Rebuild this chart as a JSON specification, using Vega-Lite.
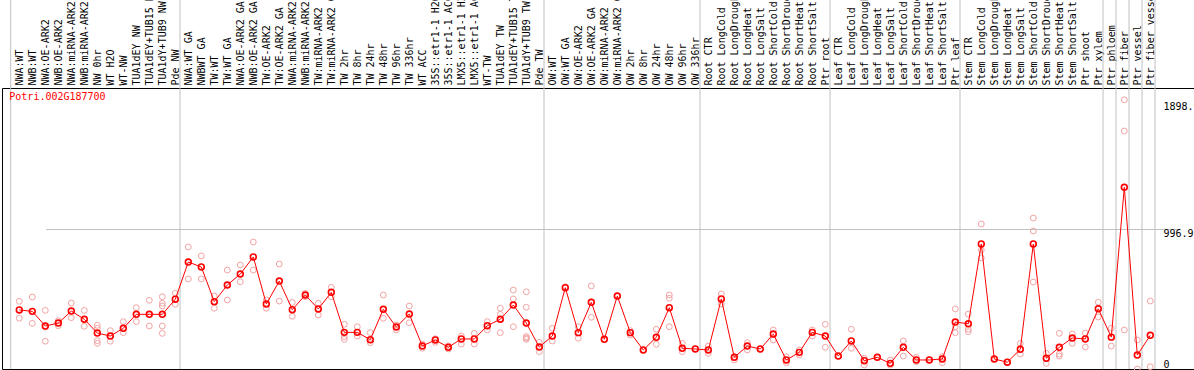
{
  "$schema": "https://vega.github.io/schema/vega-lite/v6.json",
  "width": 1192,
  "height": 281,
  "autosize": {"type": "none"},
  "padding": {"left": 2, "top": 88, "right": 0, "bottom": 1},
  "background": "white",
  "config": {"view": {"stroke": "black", "strokeWidth": 1}, "font": "DejaVu Sans Mono"},
  "datasets": {
    "sep": [
      {"c": "Pde NW"}, {"c": "Pde TW"}, {"c": "OW 336hr"}, {"c": "Ptr root"}, {"c": "Ptr leaf"},
      {"c": "Ptr xylem"}, {"c": "Ptr phloem"}, {"c": "Ptr fiber"}, {"c": "Ptr vessel"}, {"c": "Ptr fiber vessel"}
    ],
    "d": [
      {"c": "NWA:WT", "m": 419, "r": [480, 360]},
      {"c": "NWB:WT", "m": 409, "r": [511, 324]},
      {"c": "NWA:OE-ARK2", "m": 305, "r": [416, 197, 298]},
      {"c": "NWB:OE-ARK2", "m": 326, "r": [343, 307]},
      {"c": "NWA:miRNA-ARK2", "m": 411, "r": [468, 364]},
      {"c": "NWB:miRNA-ARK2", "m": 353, "r": [416, 303]},
      {"c": "NW 0hr", "m": 255, "r": [310, 289, 201, 182]},
      {"c": "WT H2O", "m": 234, "r": [272, 197]},
      {"c": "WT-NW", "m": 289, "r": [336, 258, 289]},
      {"c": "TUA1dEY NW", "m": 388, "r": [435, 336]},
      {"c": "TUA1dEY+TUB15 NW", "m": 388, "r": [487, 305]},
      {"c": "TUA1dY+TUB9 NW", "m": 388, "r": [513, 466, 447, 305, 253]},
      {"c": "Pde NW", "m": 495, "r": [537, 459]},
      {"c": "NWA:WT GA", "m": 759, "r": [866, 639]},
      {"c": "NWBWT GA", "m": 724, "r": [802, 639]},
      {"c": "TW:WT", "m": 478, "r": [518, 431]},
      {"c": "TW:WT GA", "m": 596, "r": [702, 490]},
      {"c": "NWA:OE-ARK2 GA", "m": 674, "r": [738, 619]},
      {"c": "NWB:OE-ARK2 GA", "m": 795, "r": [901, 702]},
      {"c": "TW:OE-ARK2", "m": 461, "r": [490, 431]},
      {"c": "TW:OE-ARK2 GA", "m": 624, "r": [745, 482]},
      {"c": "NWA:miRNA-ARK2 GA", "m": 421, "r": [472, 374]},
      {"c": "NWB:miRNA-ARK2 GA", "m": 525, "r": [537, 513]},
      {"c": "TW:miRNA-ARK2", "m": 426, "r": [466, 383]},
      {"c": "TW:miRNA-ARK2 GA", "m": 544, "r": [580, 513]},
      {"c": "TW 2hr", "m": 260, "r": [317, 229, 211]},
      {"c": "TW 8hr", "m": 260, "r": [300, 234]},
      {"c": "TW 24hr", "m": 208, "r": [258, 187]},
      {"c": "TW 48hr", "m": 424, "r": [525, 360]},
      {"c": "TW 96hr", "m": 298, "r": [312, 277]},
      {"c": "TW 336hr", "m": 390, "r": [447, 328]},
      {"c": "WT ACC", "m": 163, "r": [177, 147]},
      {"c": "35S::etr1-1 H2O", "m": 206, "r": [215, 189]},
      {"c": "35S::etr1-1 ACC", "m": 154, "r": [163, 142]},
      {"c": "LMX5::etr1-1 H2O", "m": 213, "r": [234, 177]},
      {"c": "LMX5::etr1-1 ACC", "m": 213, "r": [253, 177]},
      {"c": "WT-TW", "m": 307, "r": [336, 277]},
      {"c": "TUA1dEY TW", "m": 353, "r": [431, 388, 258]},
      {"c": "TUA1dEY+TUB15 TW", "m": 454, "r": [560, 497, 300]},
      {"c": "TUA1dY+TUB9 TW", "m": 326, "r": [548, 438, 220, 211, 230]},
      {"c": "Pde TW", "m": 156, "r": [189, 123]},
      {"c": "OW:WT", "m": 234, "r": [289, 199]},
      {"c": "OW:WT GA", "m": 577, "r": [584]},
      {"c": "OW:OE-ARK2", "m": 258, "r": [300, 218]},
      {"c": "OW:OE-ARK2 GA", "m": 473, "r": [589, 367]},
      {"c": "OW:miRNA-ARK2", "m": 211, "r": [211]},
      {"c": "OW:miRNA-ARK2 GA", "m": 518, "r": [518]},
      {"c": "OW 2hr", "m": 258, "r": [272, 241]},
      {"c": "OW 8hr", "m": 135, "r": [135]},
      {"c": "OW 24hr", "m": 225, "r": [282, 175]},
      {"c": "OW 48hr", "m": 435, "r": [525, 502, 300]},
      {"c": "OW 96hr", "m": 147, "r": [182, 123]},
      {"c": "OW 336hr", "m": 142, "r": [142]},
      {"c": "Root CTR", "m": 135, "r": [163, 111]},
      {"c": "Root LongCold", "m": 497, "r": [532, 461]},
      {"c": "Root LongDrought", "m": 83, "r": [87, 64]},
      {"c": "Root LongHeat", "m": 163, "r": [187, 135]},
      {"c": "Root LongSalt", "m": 142, "r": [142]},
      {"c": "Root ShortCold", "m": 248, "r": [277, 206]},
      {"c": "Root ShortDrought", "m": 64, "r": [87, 45]},
      {"c": "Root ShortHeat", "m": 118, "r": [135, 99]},
      {"c": "Root ShortSalt", "m": 260, "r": [277, 234]},
      {"c": "Ptr root", "m": 234, "r": [317, 154]},
      {"c": "Leaf CTR", "m": 92, "r": [92]},
      {"c": "Leaf LongCold", "m": 199, "r": [282, 147]},
      {"c": "Leaf LongDrought", "m": 59, "r": [76, 28]},
      {"c": "Leaf LongHeat", "m": 83, "r": [83]},
      {"c": "Leaf LongSalt", "m": 40, "r": [64, 28]},
      {"c": "Leaf ShortCold", "m": 154, "r": [199, 92]},
      {"c": "Leaf ShortDrought", "m": 64, "r": [83, 52]},
      {"c": "Leaf ShortHeat", "m": 64, "r": [64]},
      {"c": "Leaf ShortSalt", "m": 71, "r": [87, 45]},
      {"c": "Ptr leaf", "m": 333, "r": [426, 300, 258]},
      {"c": "Stem CTR", "m": 321, "r": [390, 282, 265]},
      {"c": "Stem LongCold", "m": 887, "r": [1029, 844, 788]},
      {"c": "Stem LongDrought", "m": 71, "r": [71]},
      {"c": "Stem LongHeat", "m": 48, "r": [48]},
      {"c": "Stem LongSalt", "m": 140, "r": [182, 106]},
      {"c": "Stem ShortCold", "m": 887, "r": [1071, 979, 617]},
      {"c": "Stem ShortDrought", "m": 76, "r": [111, 40]},
      {"c": "Stem ShortHeat", "m": 154, "r": [253, 106, 92]},
      {"c": "Stem ShortSalt", "m": 220, "r": [248, 182]},
      {"c": "Ptr shoot", "m": 213, "r": [255, 156]},
      {"c": "Ptr xylem", "m": 427, "r": [474, 369]},
      {"c": "Ptr phloem", "m": 226, "r": [289, 163]},
      {"c": "Ptr fiber", "m": 1289, "r": [1910, 1689, 277]},
      {"c": "Ptr vessel", "m": 99, "r": [206, 0]},
      {"c": "Ptr fiber vessel", "m": 239, "r": [482, 16]}
    ]
  },
  "layer": [
    {
      "data": {"name": "sep"},
      "mark": {"type": "rule", "color": "#c0c0c0", "strokeWidth": 1, "xOffset": 4.7},
      "encoding": {
        "x": {"field": "c", "type": "nominal"},
        "y": {"datum": 0},
        "y2": {"datum": 2625}
      }
    },
    {
      "data": {"values": [{"c": "NWA:WT"}]},
      "mark": {"type": "rule", "color": "#c0c0c0", "strokeWidth": 1, "xOffset": -8.6},
      "encoding": {
        "x": {"field": "c", "type": "nominal"},
        "y": {"datum": 0},
        "y2": {"datum": 2625}
      }
    },
    {
      "data": {"name": "d"},
      "transform": [{"flatten": ["r"], "as": ["m"]}],
      "mark": {"type": "point", "shape": "circle", "filled": false, "size": 34, "strokeWidth": 1, "color": "#f2a2a2", "opacity": 1},
      "encoding": {
        "x": {"field": "c", "type": "nominal"},
        "y": {"field": "m", "type": "quantitative"}
      }
    },
    {
      "data": {"name": "d"},
      "mark": {"type": "line", "color": "#ff0000", "strokeWidth": 1},
      "encoding": {
        "x": {
          "field": "c",
          "type": "nominal",
          "scale": {
            "type": "point",
            "padding": 0,
            "range": [17.3, 1148.3],
            "domain": ["NWA:WT", "NWB:WT", "NWA:OE-ARK2", "NWB:OE-ARK2", "NWA:miRNA-ARK2", "NWB:miRNA-ARK2", "NW 0hr", "WT H2O", "WT-NW", "TUA1dEY NW", "TUA1dEY+TUB15 NW", "TUA1dY+TUB9 NW", "Pde NW", "NWA:WT GA", "NWBWT GA", "TW:WT", "TW:WT GA", "NWA:OE-ARK2 GA", "NWB:OE-ARK2 GA", "TW:OE-ARK2", "TW:OE-ARK2 GA", "NWA:miRNA-ARK2 GA", "NWB:miRNA-ARK2 GA", "TW:miRNA-ARK2", "TW:miRNA-ARK2 GA", "TW 2hr", "TW 8hr", "TW 24hr", "TW 48hr", "TW 96hr", "TW 336hr", "WT ACC", "35S::etr1-1 H2O", "35S::etr1-1 ACC", "LMX5::etr1-1 H2O", "LMX5::etr1-1 ACC", "WT-TW", "TUA1dEY TW", "TUA1dEY+TUB15 TW", "TUA1dY+TUB9 TW", "Pde TW", "OW:WT", "OW:WT GA", "OW:OE-ARK2", "OW:OE-ARK2 GA", "OW:miRNA-ARK2", "OW:miRNA-ARK2 GA", "OW 2hr", "OW 8hr", "OW 24hr", "OW 48hr", "OW 96hr", "OW 336hr", "Root CTR", "Root LongCold", "Root LongDrought", "Root LongHeat", "Root LongSalt", "Root ShortCold", "Root ShortDrought", "Root ShortHeat", "Root ShortSalt", "Ptr root", "Leaf CTR", "Leaf LongCold", "Leaf LongDrought", "Leaf LongHeat", "Leaf LongSalt", "Leaf ShortCold", "Leaf ShortDrought", "Leaf ShortHeat", "Leaf ShortSalt", "Ptr leaf", "Stem CTR", "Stem LongCold", "Stem LongDrought", "Stem LongHeat", "Stem LongSalt", "Stem ShortCold", "Stem ShortDrought", "Stem ShortHeat", "Stem ShortSalt", "Ptr shoot", "Ptr xylem", "Ptr phloem", "Ptr fiber", "Ptr vessel", "Ptr fiber vessel"]
          },
          "axis": {
            "orient": "top",
            "title": null,
            "labelAngle": 270,
            "labelAlign": "left",
            "labelBaseline": "middle",
            "labelPadding": 3,
            "ticks": false,
            "domain": false,
            "grid": false,
            "labelFont": "DejaVu Sans Mono",
            "labelFontSize": 10,
            "labelColor": "black",
            "labelLimit": 300,
            "labelOverlap": false
          }
        },
        "y": {
          "field": "m",
          "type": "quantitative",
          "scale": {"domain": [0, 1993.8], "nice": false, "zero": false},
          "axis": {
            "orient": "right",
            "offset": -31,
            "title": null,
            "values": [0, 996.9, 1898.9],
            "labelExpr": "datum.value == 0 ? '0' : format(datum.value, '.1f')",
            "ticks": false,
            "tickSize": 0,
            "domain": false,
            "grid": true,
            "gridColor": "#c0c0c0",
            "gridOpacity": {"condition": {"test": "datum.value == 996.9", "value": 1}, "value": 0},
            "labelPadding": 0,
            "labelFont": "DejaVu Sans Mono",
            "labelFontSize": 10,
            "labelColor": "black",
            "labelAlign": "left",
            "labelBaseline": {"condition": {"test": "datum.value == 0", "value": "bottom"}, "value": "top"},
            "labelFlush": false,
            "labelOverlap": false
          }
        },
        "order": {"value": null}
      }
    },
    {
      "data": {"name": "d"},
      "mark": {"type": "point", "shape": "circle", "filled": false, "size": 34, "strokeWidth": 1.6, "color": "#ff0000", "opacity": 1},
      "encoding": {
        "x": {"field": "c", "type": "nominal"},
        "y": {"field": "m", "type": "quantitative"}
      }
    },
    {
      "data": {"values": [{"t": "Potri.002G187700"}]},
      "mark": {"type": "text", "align": "left", "baseline": "top", "dx": -10, "dy": 4, "color": "#ff0000", "font": "DejaVu Sans Mono", "fontSize": 10},
      "encoding": {
        "x": {"datum": "NWA:WT"},
        "y": {"datum": 1993.8},
        "text": {"field": "t"}
      }
    }
  ]
}
